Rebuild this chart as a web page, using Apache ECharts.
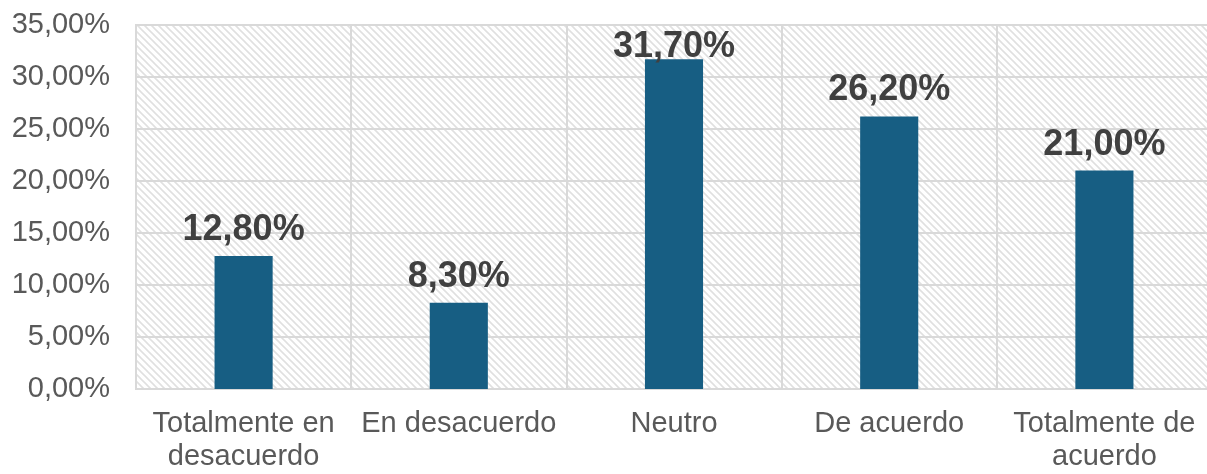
<!DOCTYPE html>
<html><head><meta charset="utf-8">
<script src="https://cdn.jsdelivr.net/npm/echarts@6/dist/echarts.min.js"></script>
<style>html,body{margin:0;padding:0;background:#fff}#c{width:1207px;height:474px}</style>
</head><body><div id="c"></div>
<script>
const categories = ['Totalmente en\ndesacuerdo', 'En desacuerdo', 'Neutro', 'De acuerdo', 'Totalmente de\nacuerdo'];
const values = [12.8, 8.3, 31.7, 26.2, 21.0];
const yMin = 0, yMax = 35, yStep = 5;

function fmt(v){ return v.toFixed(2).replace('.', ',') + '%'; }

// hatch pattern
const P = 7;
const pc = document.createElement('canvas');
pc.width = P; pc.height = P;
const g = pc.getContext('2d');
g.fillStyle = '#ffffff'; g.fillRect(0,0,P,P);
g.strokeStyle = '#e0e0e0'; g.lineWidth = 1.6;
g.beginPath();
g.moveTo(-1,-1); g.lineTo(P+1,P+1);
g.moveTo(-2,P-2); g.lineTo(2,P+2);
g.moveTo(P-2,-2); g.lineTo(P+2,2);
g.stroke();

const chart = echarts.init(document.getElementById('c'));
chart.setOption({
  animation: false,
  grid: { left: 136, width: 1076, top: 25, height: 364, show: true, containLabel: false, outerBoundsMode: 'none',
          backgroundColor: { image: pc, repeat: 'repeat' }, borderColor: '#d9d9d9', borderWidth: 2 },
  xAxis: {
    type: 'category', data: categories,
    axisLine: { show: true, lineStyle: { color: '#d9d9d9', width: 2 } },
    axisTick: { show: false },
    splitLine: { show: true, lineStyle: { color: '#d9d9d9', width: 2 } },
    axisLabel: { color: '#595959', fontFamily: 'Liberation Sans', fontSize: 29, lineHeight: 33, margin: 18, interval: 0 }
  },
  yAxis: {
    type: 'value', min: yMin, max: yMax, interval: yStep,
    axisLine: { show: false }, axisTick: { show: false },
    splitLine: { lineStyle: { color: '#d9d9d9', width: 2 } },
    axisLabel: { color: '#595959', fontFamily: 'Liberation Sans', fontSize: 29, margin: 26, formatter: v => fmt(v) }
  },
  series: [{
    type: 'bar', data: values, barWidth: '27%',
    itemStyle: { color: '#175e83' },
    label: { show: true, position: 'top', distance: 8, color: '#404040', fontFamily: 'Liberation Sans',
             fontWeight: 'bold', fontSize: 36, lineHeight: 36, formatter: p => fmt(p.value) }
  }],
  labelLayout: function (p) {
    const r = p.labelRect;
    if (r.y < 29) {
      return { x: r.x + r.width / 2, y: 29 + r.height / 2, align: 'center', verticalAlign: 'middle' };
    }
  }
});
</script></body></html>
